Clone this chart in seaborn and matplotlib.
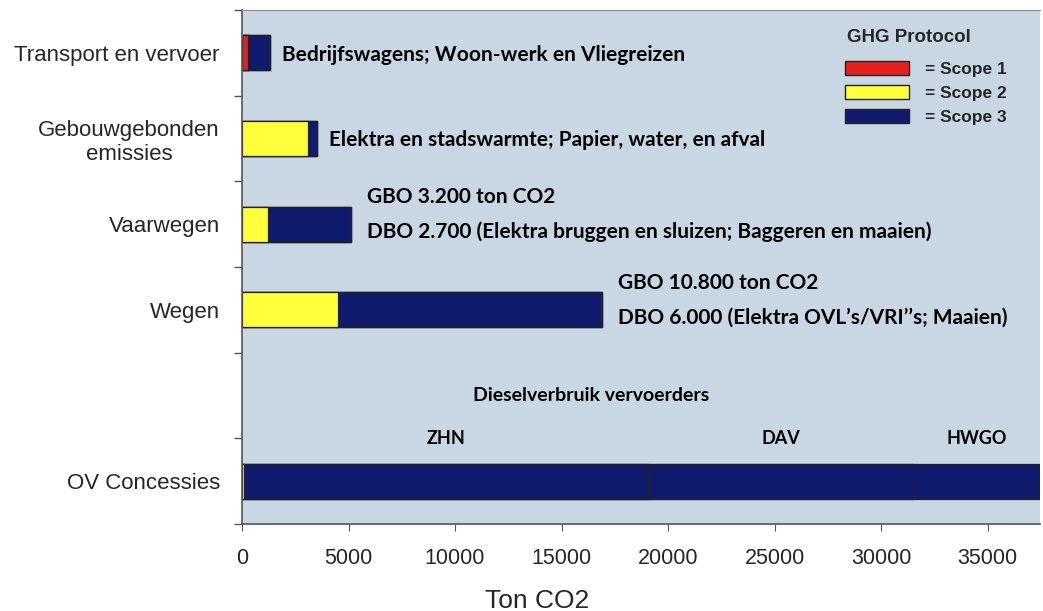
import numpy as np
import pandas as pd
import matplotlib
matplotlib.use("Agg")
import matplotlib.pyplot as plt
from matplotlib.patches import Patch
import seaborn as sns

# data (ton CO2)
categories = ["Transport en vervoer", "Gebouwgebonden\nemissies", "Vaarwegen", "Wegen", " ", "OV Concessies"]
scope1 = [300, 0, 0, 0, 0, 0]
scope2 = [0, 3100, 1200, 4500, 0, 100]
scope3 = [1000, 400, 3900, 12400, 0, 0]
ov_names = ["ZHN", "DAV", "HWGO"]
ov_diesel = [18950, 12450, 5950]  # scope 3 of the OV concessies, per vervoerder

notes = {
    "Transport en vervoer": ["Bedrijfswagens; Woon-werk en Vliegreizen"],
    "Gebouwgebonden\nemissies": ["Elektra en stadswarmte; Papier, water, en afval"],
    "Vaarwegen": ["GBO 3.200 ton CO2", "DBO 2.700 (Elektra bruggen en sluizen; Baggeren en maaien)"],
    "Wegen": ["GBO 10.800 ton CO2", "DBO 6.000 (Elektra OVL\u2019s/VRI\u2019\u2019s; Maaien)"],
}

red = "#e3211f"
yellow = "#ffff3c"
navy = "#101b6e"
edge = "#222222"
bg = "#c9d6e4"

df = pd.DataFrame({"categorie": categories, "scope1": scope1, "scope2": scope2, "scope3": scope3})
ov_idx = categories.index("OV Concessies")
df["s12"] = df["scope1"] + df["scope2"]
df["totaal"] = df["s12"] + df["scope3"]

sns.set_style("white")
plt.rcParams["font.family"] = ["Liberation Sans", "DejaVu Sans"]

fig = plt.figure(figsize=(10.43, 6.11), dpi=100)
ax = fig.add_axes([0.232, 0.142, 0.765, 0.842])
ax.set_facecolor(bg)

# stacked bars: draw the cumulative sums from long to short
ov_cum = df.loc[ov_idx, "s12"] + np.cumsum(ov_diesel)
layers = []
for k in range(len(ov_diesel) - 1, -1, -1):
    w = df["totaal"].copy()
    w[ov_idx] = ov_cum[k]
    layers.append((w, navy))
layers.append((df["s12"], yellow))
layers.append((df["scope1"], red))

for w, c in layers:
    w = w.astype(float).replace(0, np.nan)
    sns.barplot(x=w.values, y=df["categorie"], order=categories, orient="h",
                color=c, saturation=1, width=0.41, edgecolor=edge, linewidth=0.9, ax=ax)

ax.set_xlim(0, 37450)
ax.set_ylim(5.5, -0.5)
ax.set_xticks(np.arange(0, 35001, 5000))
ax.tick_params(axis="x", bottom=True, labelsize=15.5, length=5, color="#555555", pad=12)
ax.tick_params(axis="y", which="major", left=True, length=0, labelsize=16, pad=16)
ax.set_yticks(np.arange(-0.5, 5.6, 1), minor=True)
ax.tick_params(axis="y", which="minor", left=True, length=6, width=1, color="#555555")
for lab in ax.get_yticklabels():
    lab.set_multialignment("center")
ax.set_ylabel("")
ax.set_xlabel("Ton CO2", fontsize=19)
ax.xaxis.set_label_coords(0.37, -0.125)

for s in ["left", "bottom"]:
    ax.spines[s].set_color("#555555")
    ax.spines[s].set_linewidth(1.2)
ax.spines["top"].set_color("#8a8a9a")
ax.spines["right"].set_visible(False)

# annotations next to the bars
note_font = dict(family=["Lato", "DejaVu Sans"], fontweight="bold", color="black")
for cat, lines in notes.items():
    i = categories.index(cat)
    end = df.loc[i, "totaal"]
    if len(lines) == 1:
        offs = [(12, -2)]
    else:
        offs = [(16, 27), (16, -8)]
    for txt, (dx, dy) in zip(lines, offs):
        ax.annotate(txt, xy=(end, i), xytext=(dx, dy), textcoords="offset pixels",
                    ha="left", va="center", fontsize=15, **note_font)

ax.text(16400, 4.0, "Dieselverbruik vervoerders", ha="center", va="center", fontsize=14, **note_font)
starts = df.loc[ov_idx, "s12"] + np.concatenate([[0], np.cumsum(ov_diesel)[:-1]])
for name, s0, d in zip(ov_names, starts, ov_diesel):
    ax.text(s0 + d / 2, 4.5, name, ha="center", va="center", fontsize=13, **note_font)

handles = [Patch(facecolor=red, edgecolor=edge, label="= Scope 1"),
           Patch(facecolor=yellow, edgecolor=edge, label="= Scope 2"),
           Patch(facecolor=navy, edgecolor=edge, label="= Scope 3")]
leg = ax.legend(handles=handles, loc="upper left",
                bbox_to_anchor=(0.756, 0.9), frameon=False,
                prop={"weight": "bold", "size": 12.5},
                handlelength=3.7, handleheight=0.85, labelspacing=0.45,
                handletextpad=0.9, borderpad=0, borderaxespad=0)
ax.text(0.758, 0.947, "GHG Protocol", transform=ax.transAxes, ha="left", va="center",
        fontsize=13.5, fontweight="bold")

fig.savefig("out.png", dpi=100)
